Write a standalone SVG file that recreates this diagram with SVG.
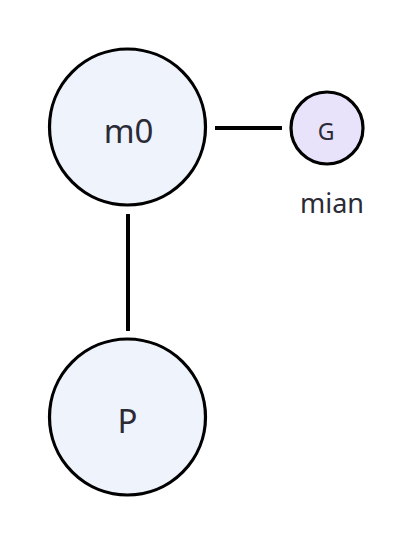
<svg xmlns="http://www.w3.org/2000/svg" width="414" height="548" viewBox="0 0 414 548">
  <style>
    .node { stroke: #000; stroke-width: 3.2; }
    .main { fill: #eef3fc; }
    .leaf { fill: #e8e2fb; }
    .edge { stroke: #000; stroke-width: 4; fill: none; }
    text { font-family: "Noto Sans", "Open Sans", sans-serif; fill: #2b2b36; text-anchor: middle; }
  </style>
  <rect width="414" height="548" fill="#fff"/>
  <g id="connectors">
    <line class="edge" x1="215" y1="128" x2="282" y2="128"/>
    <line class="edge" x1="128" y1="214" x2="128" y2="331"/>
  </g>
  <g id="node-m0">
    <circle class="node main" cx="127.5" cy="127" r="78"/>
    <text x="128.5" y="143" font-size="33">m0</text>
  </g>
  <g id="node-G">
    <circle class="node leaf" cx="327" cy="128" r="36"/>
    <text x="326" y="140" font-size="23">G</text>
    <text x="332" y="213" font-size="27">mian</text>
  </g>
  <g id="node-P">
    <circle class="node main" cx="127.5" cy="417" r="78"/>
    <text x="127.5" y="433" font-size="33">P</text>
  </g>
</svg>
